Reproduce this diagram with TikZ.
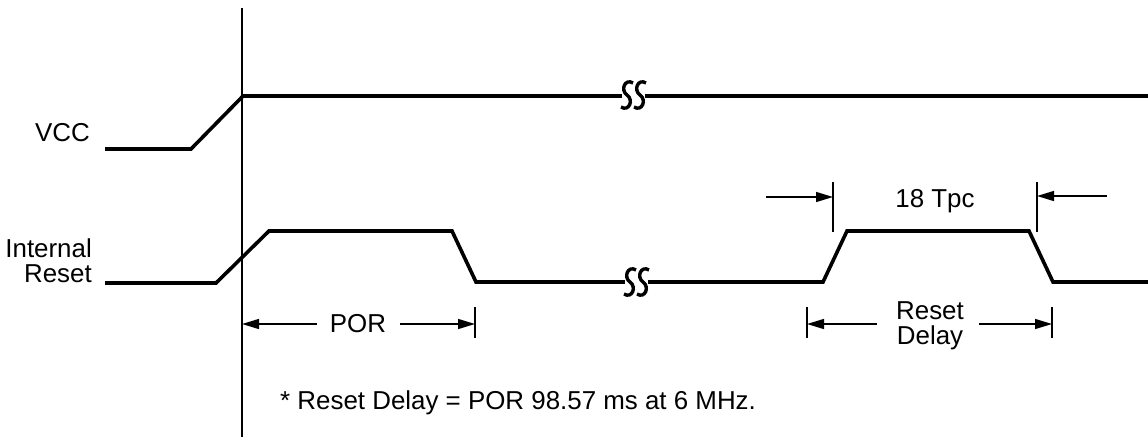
\documentclass[tikz,border=0pt]{standalone}
\usepackage{fontspec}
\setmainfont{Liberation Sans}
\usetikzlibrary{arrows.meta}
\usetikzlibrary{positioning}

\newcommand{\brkmark}[2]{%
  \foreach \dx in {0,13}{
    \draw[wave,line width=3.4pt] (#1+\dx+6,#2-12) .. controls (#1+\dx-2,#2-17) and (#1+\dx-7,#2-5) .. (#1+\dx,#2)
      .. controls (#1+\dx+7,#2+5) and (#1+\dx+2,#2+17) .. (#1+\dx-6,#2+12);
  }}

\begin{document}
\begin{tikzpicture}[
  x=1pt,y=-1pt,
  wave/.style={line width=3.6pt,line join=miter},
  thin/.style={line width=1.4pt},
  dim/.style={line width=1.4pt,-{Triangle[length=17pt,width=10pt]}},
  lbl/.style={font=\fontsize{25.9}{25}\selectfont,inner sep=0pt}
]
\useasboundingbox (0,0) rectangle (1148,437);

\coordinate (t0) at (242,8);
\coordinate (t1) at (242,437);
\draw[thin] (t0) -- (t1);

\node[lbl,anchor=base east] (vcc) at (90,141) {VCC};
\node[lbl,anchor=east,align=right] (rst) at (92,261) {Internal\\Reset};

\draw[wave] (105,149) coordinate (v0) -- (191,149) coordinate (v1)
  -- (243,96) coordinate (v2) -- (1148,96) coordinate (v3);
\draw[wave] (105,283) coordinate (r0) -- (216,283) coordinate (r1)
  -- (269,231) coordinate (r2) -- (452,231) coordinate (r3)
  -- (476,282) coordinate (r4) -- (823,282) coordinate (r5)
  -- (847,231) coordinate (r6) -- (1029,231) coordinate (r7)
  -- (1053,282) coordinate (r8) -- (1148,282) coordinate (r9);

\fill[white] (622,86) rectangle (645,106);
\fill[white] (625,272) rectangle (648,292);
\brkmark{627}{95}
\brkmark{630}{282}

\node[lbl,anchor=base] (por) at (358,332) {POR};
\coordinate (p1) at (475,307);
\coordinate (p2) at (475,338);
\draw[thin] (p1) -- (p2);
\coordinate (pa) at (317,324);
\coordinate (pc) at (400,324);
\draw[dim] (pa) -- (t0 |- pa);
\draw[dim] (pc) -- (p1 |- pc);

\node[lbl,anchor=base] (tpc) at (935,207) {18 Tpc};
\coordinate (k1) at (833,182);
\coordinate (k2) at (833,232);
\coordinate (k3) at (1037,182);
\coordinate (k4) at (1037,232);
\draw[thin] (k1) -- (k2);
\draw[thin] (k3) -- (k4);
\coordinate (ka) at (766,197);
\coordinate (kb) at (1107,196);
\draw[dim] (ka) -- (k1 |- ka);
\draw[dim] (kb) -- (k3 |- kb);

\node[lbl,align=center] (dly) at (930,326) {Reset\\Delay};
\coordinate (d1) at (807,307);
\coordinate (d2) at (807,338);
\coordinate (d3) at (1052,307);
\coordinate (d4) at (1052,338);
\draw[thin] (d1) -- (d2);
\draw[thin] (d3) -- (d4);
\coordinate (da) at (877,324);
\coordinate (db) at (979,324);
\draw[dim] (da) -- (d1 |- da);
\draw[dim] (db) -- (d3 |- db);

\node[lbl,anchor=base west] (note) at (280,409) {* Reset Delay = POR 98.57 ms at 6 MHz.};
\end{tikzpicture}
\end{document}
